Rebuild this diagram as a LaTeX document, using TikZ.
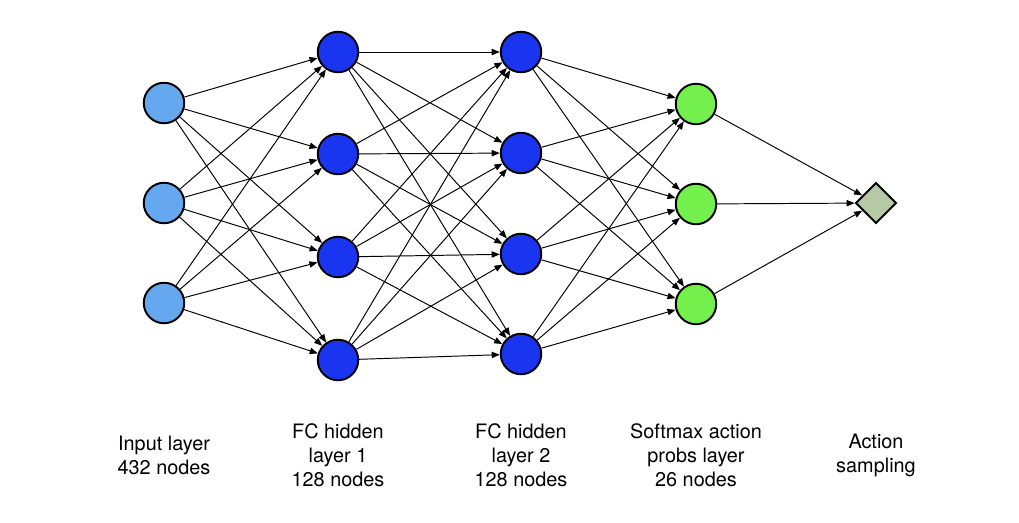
\documentclass[tikz,border=0pt]{standalone}
\usepackage{fontspec}
\setmainfont{TeX Gyre Heros}
\usepackage{tikz}
\usetikzlibrary{positioning,arrows.meta,shapes.geometric}
\definecolor{inblue}{HTML}{66A8F0}
\definecolor{hidblue}{HTML}{1A35F0}
\definecolor{outgreen}{HTML}{73F04C}
\definecolor{sampgreen}{HTML}{B5C9A5}

\begin{document}
\begin{tikzpicture}
\tikzset{neuron/.style={circle,draw=black,line width=1.1pt,minimum size=0.81cm,inner sep=0pt}}
\tikzset{conn/.style={-{Triangle[length=4.6pt,width=3.6pt]},line width=0.55pt}}
\tikzset{caption/.style={align=center,font=\fontsize{11.3}{13.7}\selectfont}}
\useasboundingbox (0,0) rectangle (20.38,10.44);
 \node[neuron,fill=inblue] (in1) at (3.28,8.38) {};
 \node[neuron,fill=inblue] (in2) at (3.28,6.38) {};
 \node[neuron,fill=inblue] (in3) at (3.28,4.38) {};
 \node[neuron,fill=hidblue] (ha1) at (6.76,9.40) {};
 \node[neuron,fill=hidblue] (ha2) at (6.76,7.36) {};
 \node[neuron,fill=hidblue] (ha3) at (6.76,5.30) {};
 \node[neuron,fill=hidblue] (ha4) at (6.76,3.24) {};
 \node[neuron,fill=hidblue] (hb1) at (10.42,9.40) {};
 \node[neuron,fill=hidblue] (hb2) at (10.42,7.38) {};
 \node[neuron,fill=hidblue] (hb3) at (10.42,5.36) {};
 \node[neuron,fill=hidblue] (hb4) at (10.42,3.36) {};
 \node[neuron,fill=outgreen] (out1) at (13.92,8.36) {};
 \node[neuron,fill=outgreen] (out2) at (13.92,6.36) {};
 \node[neuron,fill=outgreen] (out3) at (13.92,4.36) {};
 \node[diamond,draw=black,line width=1.1pt,fill=sampgreen,minimum size=0.82cm,inner sep=0pt] (samp) at (17.52,6.38) {};
\foreach \i in {1,2,3} \foreach \j in {1,2,3,4} \draw[conn] (in\i) -- (ha\j);
\foreach \i in {1,2,3,4} \foreach \j in {1,2,3,4} \draw[conn] (ha\i) -- (hb\j);
\foreach \i in {1,2,3,4} \foreach \j in {1,2,3} \draw[conn] (hb\i) -- (out\j);
\foreach \i in {1,2,3} \draw[conn] (out\i) -- (samp);
 \node[caption] (capin) at (3.28,1.34) {Input layer\\432 nodes};
 \node[caption] (capha) at (6.76,1.34) {FC hidden\\layer 1\\128 nodes};
 \node[caption] (caphb) at (10.42,1.34) {FC hidden\\layer 2\\128 nodes};
 \node[caption] (capout) at (13.92,1.34) {Softmax action\\probs layer\\26 nodes};
 \node[caption] (capsamp) at (17.52,1.34) {Action\\sampling};
\end{tikzpicture}
\end{document}
